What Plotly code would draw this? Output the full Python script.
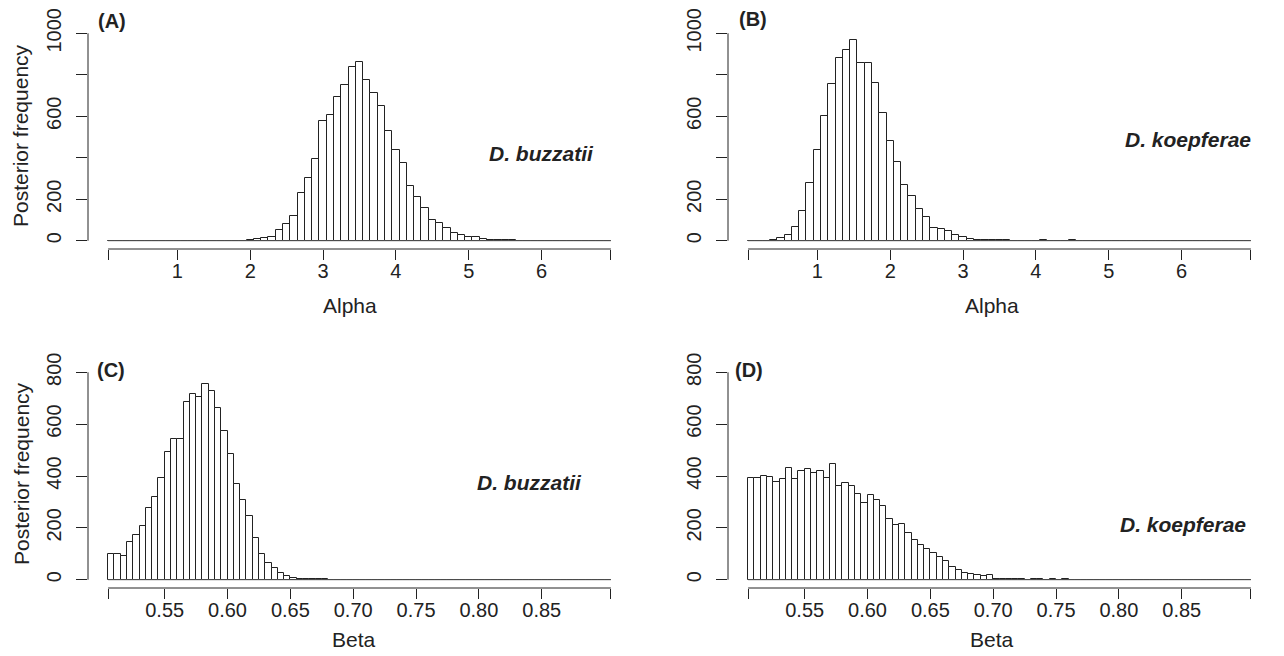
import plotly.graph_objects as go

# ---------------- data ----------------
# Panel A: Alpha, D. buzzatii (bins of 0.1 from 0.05 to 6.95)
alpha_start = 0.05
alpha_width = 0.1
alpha_buzzatii = [0]*19 + [
    3, 6, 11, 20, 51, 80, 120, 232, 301, 393,
    578, 607, 694, 753, 837, 862, 777, 712, 648, 527,
    437, 376, 265, 210, 160, 100, 86, 60, 36, 27,
    19, 18, 10, 3, 2, 2, 4, 1, 1,
] + [0]*11

# Panel B: Alpha, D. koepferae
alpha_koepferae = [
    0, 0, 0, 3, 11, 26, 68, 144, 278, 438,
    603, 755, 879, 918, 966, 858, 858, 760, 617, 483,
    379, 269, 214, 154, 115, 61, 57, 45, 28, 18,
    8, 4, 3, 3, 2, 2, 1, 1, 0, 1,
    2, 0, 0, 1, 2, 0, 0, 0, 0, 0,
] + [0]*19

# Panel C: Beta, D. buzzatii (bins of 0.005 from 0.505 to 0.905)
beta_start = 0.505
beta_width = 0.005
beta_buzzatii = [
    98, 98, 93, 147, 171, 206, 278, 319, 394, 493,
    541, 541, 685, 718, 703, 754, 729, 664, 575, 484,
    370, 307, 244, 162, 98, 64, 45, 26, 13, 6,
    4, 3, 2, 1, 1,
] + [0]*45

# Panel D: Beta, D. koepferae
beta_koepferae = [
    392, 392, 400, 395, 376, 388, 432, 387, 420, 426,
    413, 420, 391, 446, 360, 373, 363, 329, 296, 328,
    307, 283, 234, 211, 213, 180, 154, 132, 118, 102,
    89, 73, 48, 39, 27, 23, 18, 13, 19, 4,
    4, 1, 2, 1, 0, 1, 1, 0, 1, 0,
    1,
] + [0]*29

alpha_ticks = [1, 2, 3, 4, 5, 6]
alpha_ticklabels = ["1", "2", "3", "4", "5", "6"]
beta_ticks = [0.55, 0.60, 0.65, 0.70, 0.75, 0.80, 0.85]
beta_ticklabels = ["0.55", "0.60", "0.65", "0.70", "0.75", "0.80", "0.85"]

yticks_top = [0, 200, 400, 600, 800, 1000]
yticklabels_top = ["0", "200", "", "600", "", "1000"]
yticks_bottom = [0, 200, 400, 600, 800]
yticklabels_bottom = ["0", "200", "400", "600", "800"]

panel_letters = ["(A)", "(B)", "(C)", "(D)"]
species = ["D. buzzatii", "D. koepferae", "D. buzzatii", "D. koepferae"]
xtitles = ["Alpha", "Alpha", "Beta", "Beta"]
ytitle = "Posterior frequency"

# ---------------- layout helpers ----------------
W, H = 1284, 656
FONT = "Liberation Sans, Arial, Helvetica, sans-serif"
INK = "#222222"


def px(x):
    return x / W


def py(y):
    return 1 - y / H


panels = [
    dict(vals=alpha_buzzatii, start=alpha_start, width=alpha_width,
         ticks=alpha_ticks, tl=alpha_ticklabels, ymax=1000,
         yt=yticks_top, ytl=yticklabels_top,
         dom_x=(80, 623), dom_y=(17, 241)),
    dict(vals=alpha_koepferae, start=alpha_start, width=alpha_width,
         ticks=alpha_ticks, tl=alpha_ticklabels, ymax=1000,
         yt=yticks_top, ytl=yticklabels_top,
         dom_x=(720, 1263), dom_y=(17, 241)),
    dict(vals=beta_buzzatii, start=beta_start, width=beta_width,
         ticks=beta_ticks, tl=beta_ticklabels, ymax=800,
         yt=yticks_bottom, ytl=yticklabels_bottom,
         dom_x=(80, 623), dom_y=(356, 580)),
    dict(vals=beta_koepferae, start=beta_start, width=beta_width,
         ticks=beta_ticks, tl=beta_ticklabels, ymax=800,
         yt=yticks_bottom, ytl=yticklabels_bottom,
         dom_x=(720, 1263), dom_y=(356, 580)),
]

letter_pos = [(104, 13), (745, 11), (103, 362), (741, 362)]
species_pos = [(533, 146), (1180, 131), (521, 474), (1175, 516)]
xtitle_pos = [(342, 297), (984, 297), (346, 631), (984, 631)]
ytitle_pos = [(13, 128), (13, 466)]

fig = go.Figure()
shapes = []
annotations = []
layout = dict(
    width=W, height=H,
    margin=dict(l=0, r=0, t=0, b=0, pad=0, autoexpand=False),
    paper_bgcolor="white", plot_bgcolor="white",
    showlegend=False, bargap=0,
    font=dict(family=FONT, color=INK),
)


def ann(text, x, y, size, angle=0):
    return dict(text=text, x=px(x), y=py(y), xref="paper", yref="paper",
                xanchor="center", yanchor="middle", textangle=angle,
                showarrow=False, font=dict(size=size, family=FONT, color=INK))


for i, p in enumerate(panels):
    n = len(p["vals"])
    lo = p["start"]
    hi = p["start"] + n * p["width"]
    centers = [lo + (k + 0.5) * p["width"] for k in range(n)]
    span = hi - lo
    suffix = "" if i == 0 else str(i + 1)
    xa, ya = "x" + suffix, "y" + suffix

    fig.add_trace(go.Bar(
        x=centers, y=p["vals"], width=p["width"],
        marker=dict(color="white", line=dict(color=INK, width=1)),
        xaxis=xa, yaxis=ya, hoverinfo="x+y",
    ))

    ymax = p["ymax"]
    layout["xaxis" + suffix] = dict(
        domain=[px(p["dom_x"][0]), px(p["dom_x"][1])],
        anchor=ya, automargin=False,
        range=[lo - 0.04 * span, hi + 0.04 * span],
        tickvals=[lo] + p["ticks"] + [hi],
        ticktext=[""] + p["tl"] + [""],
        ticks="outside", ticklen=10, tickwidth=1, tickcolor=INK,
        showline=False, showgrid=False, zeroline=False,
        tickfont=dict(size=20, family=FONT, color=INK),
        ticklabelstandoff=-6,
    )
    layout["yaxis" + suffix] = dict(
        domain=[py(p["dom_y"][1]), py(p["dom_y"][0])],
        anchor=xa, automargin=False,
        range=[-0.04 * ymax, 1.04 * ymax],
        tickvals=p["yt"], ticktext=p["ytl"],
        tickangle=-90,
        ticks="outside", ticklen=11, tickwidth=1, tickcolor=INK,
        showline=False, showgrid=False, zeroline=False,
        tickfont=dict(size=20, family=FONT, color=INK),
        ticklabelstandoff=7,
    )
    # partial axis lines (R style)
    shapes.append(dict(type="line", xref=xa, yref=ya + " domain",
                       x0=lo, x1=hi, y0=0, y1=0,
                       line=dict(color=INK, width=1)))
    shapes.append(dict(type="line", xref=xa + " domain", yref=ya,
                       x0=0, x1=0, y0=0, y1=ymax,
                       line=dict(color=INK, width=1)))
    # baseline of zero-height bins
    shapes.append(dict(type="line", xref=xa, yref=ya,
                       x0=lo, x1=hi, y0=0, y1=0,
                       line=dict(color="#555555", width=1)))

    lx, ly = letter_pos[i]
    annotations.append(ann("<b>" + panel_letters[i] + "</b>", lx, ly, 20))
    sx, sy = species_pos[i]
    annotations.append(ann("<b><i>" + species[i] + "</i></b>", sx, sy, 21))
    tx, ty = xtitle_pos[i]
    annotations.append(ann(xtitles[i], tx, ty, 21))

for (tx, ty) in ytitle_pos:
    annotations.append(ann(ytitle, tx, ty, 21, angle=-90))

layout["shapes"] = shapes
layout["annotations"] = annotations
fig.update_layout(**layout)
fig.write_html("out.html")
